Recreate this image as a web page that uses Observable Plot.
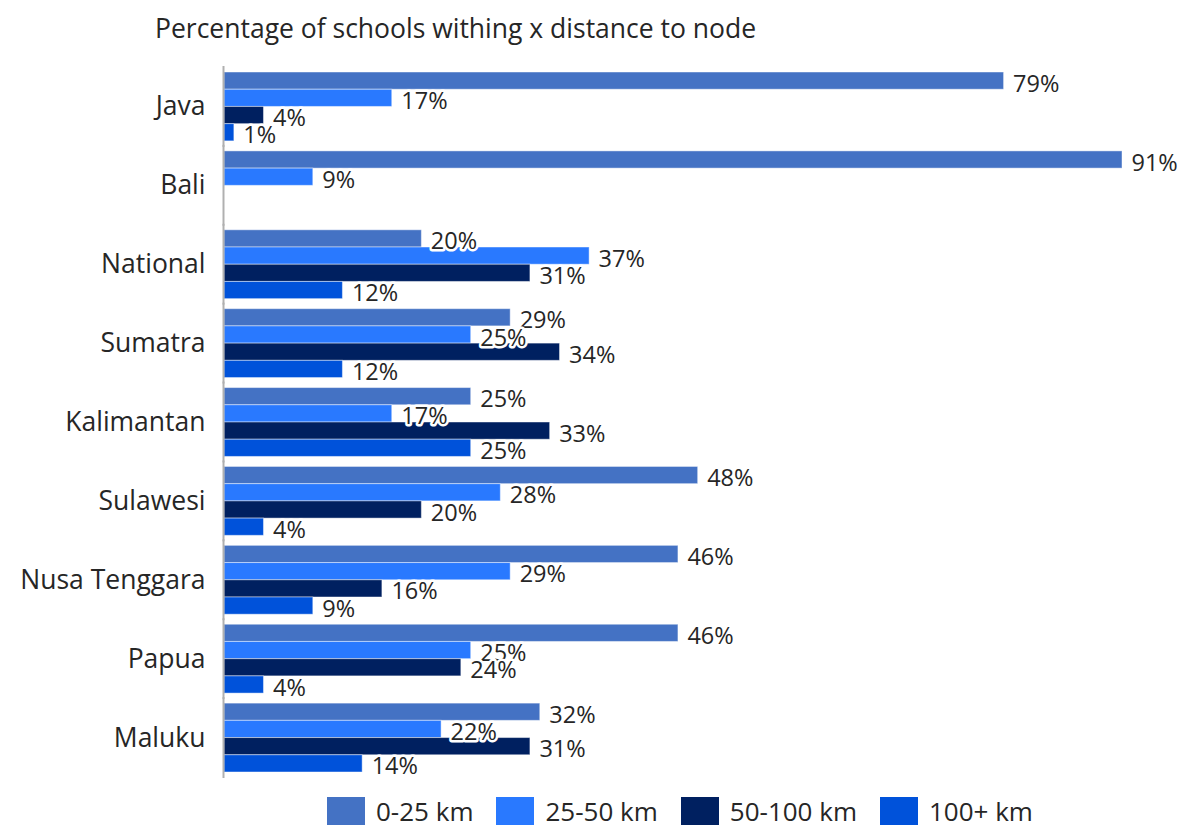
<!DOCTYPE html>
<html>
<head>
<meta charset="utf-8">
<script src="https://cdn.jsdelivr.net/npm/d3@7"></script>
<script src="https://cdn.jsdelivr.net/npm/@observablehq/plot@0.6"></script>
<style>
  html, body { margin: 0; padding: 0; background: #fff; }
  body { width: 1180px; height: 825px; overflow: hidden; font-family: "Open Sans", sans-serif; color: #262626; }
  #title { height: 50px; box-sizing: border-box; padding-left: 155px; padding-top: 11px; font-size: 26.5px; line-height: 34px; white-space: nowrap; }
  #chart svg { overflow: visible; display: block; }
  #legend { height: 40px; box-sizing: border-box; padding-top: 12px; padding-left: 327px; display: flex; align-items: flex-start; font-size: 26px; }
  .item { display: flex; align-items: flex-start; margin-right: 23px; }
  .sw { width: 38px; height: 28px; margin-right: 11px; }
  .lbl { line-height: 24px; margin-top: 2px; white-space: nowrap; }
</style>
</head>
<body>
<div id="title">Percentage of schools withing x distance to node</div>
<div id="chart"></div>
<div id="legend"></div>
<script>
const regions = ["Java", "Bali", "National", "Sumatra", "Kalimantan", "Sulawesi", "Nusa Tenggara", "Papua", "Maluku"];
const series = ["0-25 km", "25-50 km", "50-100 km", "100+ km"];
const v0to25 = [79, 91, 20, 29, 25, 48, 46, 46, 32];
const v25to50 = [17, 9, 37, 25, 17, 28, 29, 25, 22];
const v50to100 = [4, 0, 31, 34, 33, 20, 16, 24, 31];
const v100plus = [1, 0, 12, 12, 25, 4, 9, 4, 14];
const colors = ["#4472C4", "#2979FF", "#002060", "#0052DA"];

const seriesValues = [v0to25, v25to50, v50to100, v100plus];
const data = [];
regions.forEach((r, i) => {
  series.forEach((s, j) => {
    const v = seriesValues[j][i];
    if (v > 0) data.push({region: r, series: s, value: v});
  });
});

const chart = Plot.plot({
  width: 1180,
  height: 735,
  marginLeft: 224,
  marginRight: 58,
  marginTop: 17,
  marginBottom: 8,
  style: {fontFamily: "Open Sans, sans-serif", color: "#262626", background: "transparent"},
  x: {domain: [0, 91], axis: null},
  y: {domain: series, padding: 0, axis: null, round: false},
  fy: {domain: regions, paddingInner: 0.127, paddingOuter: 0.0635, round: false, label: null},
  color: {domain: series, range: colors},
  marks: [
    Plot.axisFy({label: null, tickSize: 0, tickPadding: 19, fontSize: 26.5, anchor: "left", fill: "#262626"}),
    Plot.barX(data, {x: "value", y: "series", fy: "region", fill: "series", stroke: "#ffffff", strokeOpacity: 0.45, strokeWidth: 1}),
    Plot.ruleX(regions, {x: 0, fy: d => d, stroke: "#b0b0b0", strokeWidth: 2, insetTop: -6, insetBottom: -6, dx: -1}),
    Plot.text(data, {x: "value", y: "series", fy: "region", text: d => d.value + "%", dx: 9, dy: 3, textAnchor: "start", fontSize: 23.5, fill: "#262626", stroke: "white", strokeWidth: 5, paintOrder: "stroke"})
  ]
});
document.getElementById("chart").appendChild(chart);

const legend = d3.select("#legend");
series.forEach((s, j) => {
  const item = legend.append("div").attr("class", "item");
  item.append("div").attr("class", "sw").style("background", colors[j]);
  item.append("div").attr("class", "lbl").text(s);
});
</script>
</body>
</html>
